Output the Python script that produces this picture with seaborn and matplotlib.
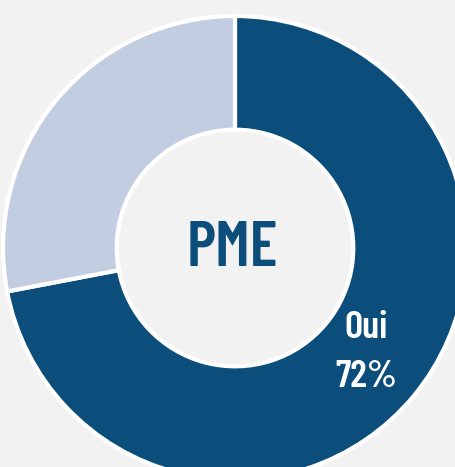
import matplotlib.pyplot as plt
import seaborn as sns

# Data
labels = ['Oui', 'Non']
shares = [72, 28]
colors = ['#0b4d7b', '#c3cde1']
center_title = 'PME'

sns.set_theme(style='white')
plt.rcParams['font.family'] = ['Barlow Condensed', 'DejaVu Sans']

fig = plt.figure(figsize=(4.56, 4.67), dpi=100, facecolor='#f2f2f2')
ax = fig.add_axes([0, 0, 1, 1])
ax.set_facecolor('#f2f2f2')

# donut drawn in pixel coordinates so it can overflow the frame
cx, cy, r = 235, 467 - 248, 232
wedges, _ = ax.pie(shares, colors=colors, startangle=90, counterclock=False,
                   center=(cx, cy), radius=r,
                   wedgeprops=dict(width=r * 0.49, edgecolor='white', linewidth=3))
ax.set_xlim(0, 456)
ax.set_ylim(0, 467)
ax.set_aspect('equal')
ax.axis('off')

ax.text(232, 467 - 249, center_title, ha='center', va='center', fontsize=46,
        fontweight='semibold', color='#0b4d7b')
ax.text(366, 467 - 328, labels[0], ha='center', va='center',
        fontsize=28, fontweight='semibold', color='white')
ax.text(366, 467 - 377, f'{shares[0]}%', ha='center', va='center',
        fontsize=28, fontweight='semibold', color='white')

fig.savefig('out.png', dpi=100, facecolor=fig.get_facecolor())
